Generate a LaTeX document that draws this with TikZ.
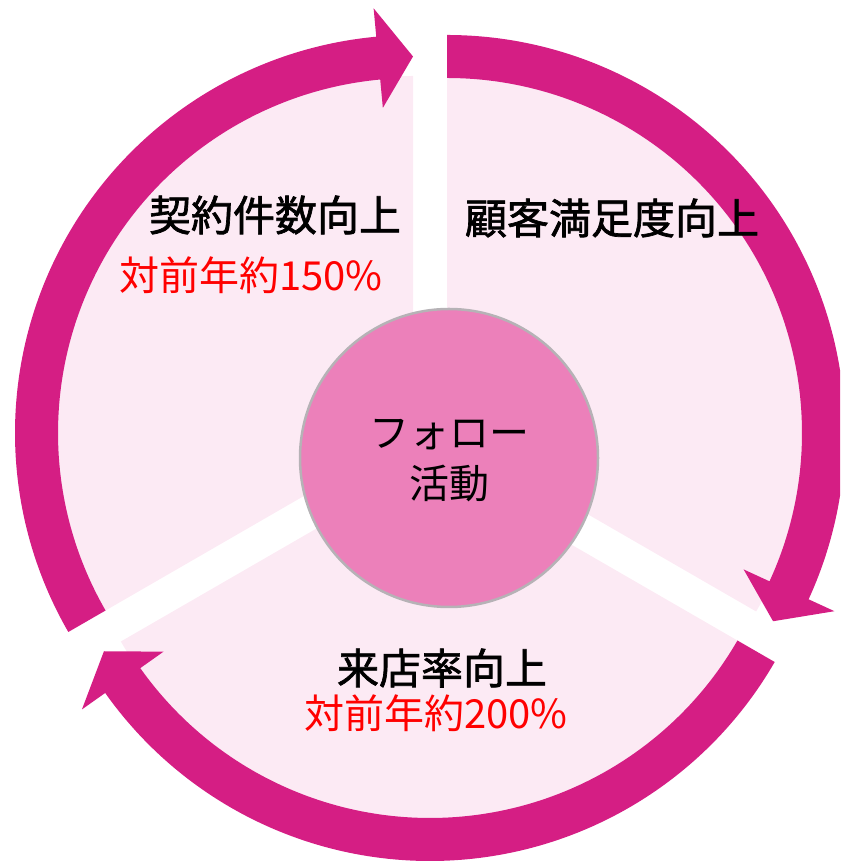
\documentclass[tikz,border=0pt]{standalone}
\usepackage{fontspec}
\setmainfont{Noto Sans CJK JP}
\newfontfamily\titlefont[FakeBold=1.6]{Noto Sans CJK JP}
\usetikzlibrary{calc}
\definecolor{ringc}{RGB}{213,30,132}
\definecolor{secfill}{RGB}{252,234,244}
\definecolor{circfill}{RGB}{236,128,186}
\definecolor{circline}{RGB}{182,178,182}
\definecolor{subred}{RGB}{255,0,0}
\newcommand\cyclesector[3]{%
  \fill[sector] (#1) -- ($(#1)+(#2:357pt)$) arc[start angle=#2, end angle=#3, radius=357pt] -- cycle;}
\newcommand\cyclearrow[3]{%
  \fill[ringarrow] ($(#1)+(#2:398pt)$) arc[start angle=#2, end angle=#3+5.3, radius=398pt]
    -- ($(#1)+(#3+5.3:426.5pt)$) -- ($(#1)+(#3:376.5pt)$) -- ($(#1)+(#3+5.3:326.5pt)$)
    -- ($(#1)+(#3+5.3:355pt)$) arc[start angle=#3+5.3, end angle=#2, radius=355pt] -- cycle;}
\begin{document}
\begin{tikzpicture}[x=1pt,y=1pt,
  sector/.style={fill=secfill},
  ringarrow/.style={fill=ringc},
  title/.style={font=\titlefont\fontsize{42}{50}\selectfont, text=black, inner sep=0pt},
  sub/.style={font=\fontsize{40}{46}\selectfont, text=subred, inner sep=0pt}]
\useasboundingbox (0,0) rectangle (840,861);
\clip (0,0) rectangle (840,861);
\coordinate (s1) at (447,428);
\coordinate (s2) at (413,428);
\coordinate (s3) at (430,398);
% pink sectors
\cyclesector{s1}{90}{-30}
\cyclesector{s2}{210}{90}
\cyclesector{s3}{330}{210}
% circular arrows
\cyclearrow{s1}{90}{-30}
\cyclearrow{s2}{210}{90}
\cyclearrow{s3}{330}{210}
% centre
\node[circle, minimum size=298pt, inner sep=0pt, fill=circfill, draw=circline, line width=2.5pt] (follow) at (449,403) {};
\node[font=\fontsize{40}{51}\selectfont, align=center, inner sep=0pt] (followtext) at (449,400) {フォロー\\活動};
% labels
\node[title] (t1) at (275,646) {契約件数向上};
\node[sub] (t1s) at (251,586) {対前年約150\%};
\node[title] (t2) at (612,643) {顧客満足度向上};
\node[title] (t3) at (442,193) {来店率向上};
\node[sub] (t3s) at (436,148) {対前年約200\%};
\end{tikzpicture}
\end{document}
